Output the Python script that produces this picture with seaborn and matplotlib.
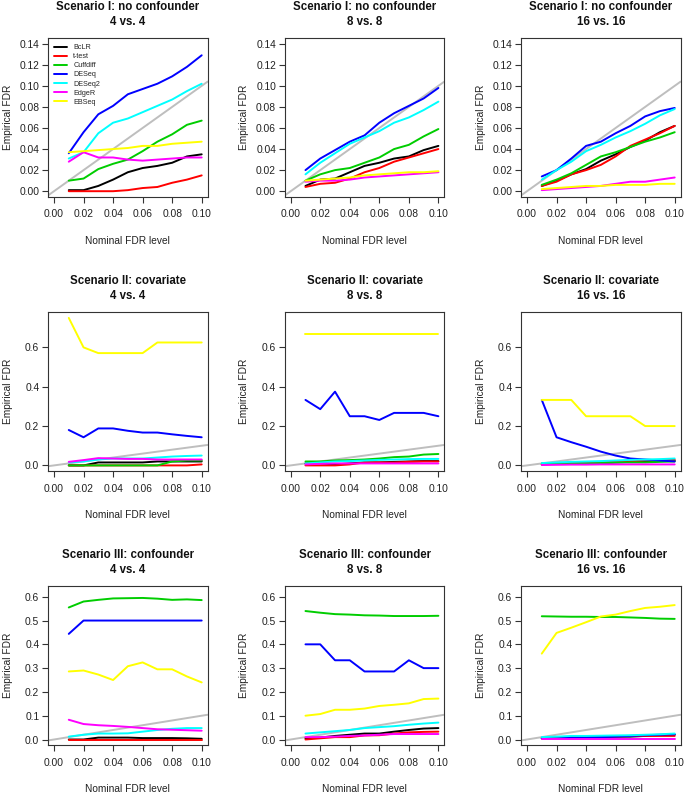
import pandas as pd
import seaborn as sns
import matplotlib.pyplot as plt

# nominal FDR levels (x axis)
nominal = [0.01, 0.02, 0.03, 0.04, 0.05, 0.06, 0.07, 0.08, 0.09, 0.10]

methods = ["BcLR", "t-test", "Cuffdiff", "DESeq", "DESeq2", "EdgeR", "EBSeq"]
colores = ["black", "#FF0000", "#00CD00", "#0000FF", "#00FFFF", "#FF00FF", "#FFFF00"]

# Scenario I: no confounder
s1_4 = {
    "BcLR":     [0.001, 0.001, 0.005, 0.011, 0.018, 0.022, 0.024, 0.027, 0.033, 0.035],
    "t-test":   [0.000, 0.000, 0.000, 0.000, 0.001, 0.003, 0.004, 0.008, 0.011, 0.015],
    "Cuffdiff": [0.010, 0.012, 0.021, 0.026, 0.030, 0.038, 0.047, 0.054, 0.063, 0.067],
    "DESeq":    [0.036, 0.056, 0.073, 0.081, 0.092, 0.097, 0.102, 0.109, 0.118, 0.129],
    "DESeq2":   [0.031, 0.037, 0.055, 0.065, 0.069, 0.075, 0.081, 0.087, 0.095, 0.102],
    "EdgeR":    [0.028, 0.037, 0.032, 0.032, 0.030, 0.029, 0.030, 0.031, 0.032, 0.032],
    "EBSeq":    [0.037, 0.038, 0.039, 0.040, 0.041, 0.043, 0.043, 0.045, 0.046, 0.047],
}
s1_8 = {
    "BcLR":     [0.005, 0.011, 0.012, 0.018, 0.024, 0.027, 0.031, 0.033, 0.039, 0.043],
    "t-test":   [0.004, 0.007, 0.008, 0.012, 0.018, 0.022, 0.028, 0.032, 0.036, 0.040],
    "Cuffdiff": [0.010, 0.016, 0.020, 0.022, 0.027, 0.032, 0.040, 0.044, 0.052, 0.059],
    "DESeq":    [0.020, 0.031, 0.039, 0.047, 0.053, 0.065, 0.074, 0.081, 0.088, 0.098],
    "DESeq2":   [0.016, 0.027, 0.036, 0.045, 0.051, 0.057, 0.065, 0.070, 0.077, 0.085],
    "EdgeR":    [0.009, 0.010, 0.010, 0.011, 0.013, 0.014, 0.015, 0.016, 0.017, 0.018],
    "EBSeq":    [0.010, 0.011, 0.012, 0.013, 0.015, 0.016, 0.017, 0.018, 0.018, 0.019],
}
s1_16 = {
    "BcLR":     [0.005, 0.010, 0.016, 0.021, 0.029, 0.035, 0.042, 0.048, 0.056, 0.062],
    "t-test":   [0.005, 0.009, 0.016, 0.020, 0.025, 0.033, 0.043, 0.049, 0.055, 0.062],
    "Cuffdiff": [0.006, 0.011, 0.017, 0.025, 0.033, 0.037, 0.042, 0.047, 0.051, 0.056],
    "DESeq":    [0.014, 0.020, 0.031, 0.043, 0.047, 0.055, 0.062, 0.071, 0.076, 0.079],
    "DESeq2":   [0.011, 0.020, 0.028, 0.038, 0.044, 0.051, 0.057, 0.064, 0.072, 0.078],
    "EdgeR":    [0.001, 0.002, 0.003, 0.004, 0.005, 0.007, 0.009, 0.009, 0.011, 0.013],
    "EBSeq":    [0.002, 0.003, 0.004, 0.005, 0.005, 0.006, 0.006, 0.006, 0.007, 0.007],
}

# Scenario II: covariate
s2_4 = {
    "BcLR":     [0.000, 0.000, 0.015, 0.015, 0.015, 0.015, 0.020, 0.020, 0.020, 0.020],
    "t-test":   [0.000, 0.000, 0.000, 0.000, 0.000, 0.000, 0.000, 0.000, 0.000, 0.005],
    "Cuffdiff": [0.000, 0.000, 0.000, 0.000, 0.000, 0.000, 0.000, 0.020, 0.025, 0.025],
    "DESeq":    [0.180, 0.143, 0.188, 0.188, 0.176, 0.167, 0.167, 0.158, 0.150, 0.143],
    "DESeq2":   [0.015, 0.020, 0.030, 0.035, 0.035, 0.035, 0.040, 0.045, 0.048, 0.050],
    "EdgeR":    [0.018, 0.027, 0.037, 0.035, 0.033, 0.033, 0.030, 0.030, 0.030, 0.030],
    "EBSeq":    [0.750, 0.600, 0.571, 0.571, 0.571, 0.571, 0.625, 0.625, 0.625, 0.625],
}
s2_8 = {
    "BcLR":     [0.010, 0.010, 0.005, 0.010, 0.015, 0.015, 0.018, 0.020, 0.022, 0.022],
    "t-test":   [0.000, 0.000, 0.000, 0.005, 0.015, 0.015, 0.015, 0.018, 0.020, 0.020],
    "Cuffdiff": [0.020, 0.020, 0.025, 0.027, 0.030, 0.035, 0.042, 0.045, 0.055, 0.058],
    "DESeq":    [0.333, 0.286, 0.375, 0.250, 0.250, 0.231, 0.267, 0.267, 0.267, 0.250],
    "DESeq2":   [0.010, 0.015, 0.020, 0.022, 0.025, 0.028, 0.030, 0.032, 0.033, 0.033],
    "EdgeR":    [0.005, 0.008, 0.010, 0.010, 0.010, 0.010, 0.010, 0.010, 0.010, 0.010],
    "EBSeq":    [0.667, 0.667, 0.667, 0.667, 0.667, 0.667, 0.667, 0.667, 0.667, 0.667],
}
s2_16 = {
    "BcLR":     [0.005, 0.008, 0.010, 0.010, 0.012, 0.015, 0.018, 0.020, 0.022, 0.025],
    "t-test":   [0.005, 0.008, 0.010, 0.010, 0.015, 0.018, 0.020, 0.025, 0.025, 0.028],
    "Cuffdiff": [0.010, 0.010, 0.010, 0.010, 0.012, 0.015, 0.015, 0.015, 0.018, 0.020],
    "DESeq":    [0.333, 0.143, 0.118, 0.095, 0.070, 0.050, 0.035, 0.030, 0.025, 0.020],
    "DESeq2":   [0.012, 0.015, 0.018, 0.020, 0.022, 0.025, 0.028, 0.030, 0.032, 0.035],
    "EdgeR":    [0.002, 0.003, 0.004, 0.004, 0.005, 0.005, 0.005, 0.005, 0.005, 0.005],
    "EBSeq":    [0.333, 0.333, 0.333, 0.250, 0.250, 0.250, 0.250, 0.200, 0.200, 0.200],
}

# Scenario III: confounder
s3_4 = {
    "BcLR":     [0.000, 0.000, 0.008, 0.008, 0.008, 0.006, 0.006, 0.006, 0.005, 0.003],
    "t-test":   [0.000, 0.000, 0.000, 0.000, 0.000, 0.000, 0.000, 0.000, 0.000, 0.000],
    "Cuffdiff": [0.555, 0.580, 0.587, 0.593, 0.594, 0.595, 0.592, 0.587, 0.589, 0.586],
    "DESeq":    [0.444, 0.500, 0.500, 0.500, 0.500, 0.500, 0.500, 0.500, 0.500, 0.500],
    "DESeq2":   [0.012, 0.020, 0.025, 0.025, 0.026, 0.033, 0.040, 0.045, 0.048, 0.048],
    "EdgeR":    [0.083, 0.065, 0.060, 0.057, 0.053, 0.048, 0.043, 0.041, 0.039, 0.037],
    "EBSeq":    [0.286, 0.290, 0.273, 0.250, 0.308, 0.324, 0.295, 0.295, 0.265, 0.240],
}
s3_8 = {
    "BcLR":     [0.005, 0.008, 0.015, 0.020, 0.025, 0.025, 0.033, 0.040, 0.046, 0.048],
    "t-test":   [0.000, 0.005, 0.010, 0.010, 0.017, 0.018, 0.025, 0.030, 0.032, 0.033],
    "Cuffdiff": [0.540, 0.533, 0.527, 0.525, 0.522, 0.521, 0.519, 0.519, 0.519, 0.520],
    "DESeq":    [0.400, 0.400, 0.333, 0.333, 0.286, 0.286, 0.286, 0.333, 0.300, 0.300],
    "DESeq2":   [0.025, 0.030, 0.035, 0.040, 0.048, 0.052, 0.056, 0.062, 0.067, 0.071],
    "EdgeR":    [0.010, 0.010, 0.012, 0.015, 0.017, 0.020, 0.023, 0.023, 0.023, 0.023],
    "EBSeq":    [0.100, 0.107, 0.125, 0.125, 0.130, 0.141, 0.146, 0.152, 0.170, 0.172],
}
s3_16 = {
    "BcLR":     [0.005, 0.008, 0.010, 0.010, 0.010, 0.012, 0.012, 0.015, 0.018, 0.020],
    "t-test":   [0.005, 0.008, 0.010, 0.012, 0.012, 0.012, 0.015, 0.015, 0.015, 0.015],
    "Cuffdiff": [0.518, 0.517, 0.516, 0.516, 0.515, 0.515, 0.513, 0.511, 0.508, 0.507],
    "DESeq":    [0.005, 0.005, 0.008, 0.010, 0.010, 0.012, 0.015, 0.018, 0.020, 0.022],
    "DESeq2":   [0.010, 0.012, 0.015, 0.015, 0.016, 0.017, 0.018, 0.020, 0.022, 0.025],
    "EdgeR":    [0.002, 0.002, 0.002, 0.002, 0.002, 0.002, 0.002, 0.002, 0.002, 0.002],
    "EBSeq":    [0.361, 0.448, 0.470, 0.493, 0.517, 0.525, 0.540, 0.553, 0.558, 0.565],
}

cenarios = ["Scenario I: no confounder", "Scenario II: covariate", "Scenario III: confounder"]
grupos = ["4 vs. 4", "8 vs. 8", "16 vs. 16"]
paineis = [[s1_4, s1_8, s1_16], [s2_4, s2_8, s2_16], [s3_4, s3_8, s3_16]]

# y limits / ticks per row (R style, 4% padding)
ylims = [(0, 0.14), (0, 0.75), (0, 0.62)]
yticks = [[0, 0.02, 0.04, 0.06, 0.08, 0.10, 0.12, 0.14], [0, 0.2, 0.4, 0.6], [0, 0.1, 0.2, 0.3, 0.4, 0.5, 0.6]]
yfmt = ["{:.2f}", "{:.1f}", "{:.1f}"]
xticks = [0, 0.02, 0.04, 0.06, 0.08, 0.10]

sns.set_style("ticks")
plt.rcParams["font.family"] = ["Liberation Sans", "DejaVu Sans"]

W, H = 685, 794
fig = plt.figure(figsize=(W / 100, H / 100), dpi=100)

col_left = [48.1, 284.8, 521.1]
row_top = [37.8, 312.0, 586.1]
bw, bh = 159.5, 159.3
cor_eixo = "#333333"

for i in range(3):
    for j in range(3):
        ax = fig.add_axes([col_left[j] / W, 1 - (row_top[i] + bh) / H, bw / W, bh / H])
        dados = paineis[i][j]
        df = pd.DataFrame([
            {"nominal": x, "fdr": v, "metodo": m}
            for m in methods for x, v in zip(nominal, dados[m])
        ])
        ax.axline((0, 0), slope=1, color="#BEBEBE", lw=1.4, zorder=1)
        sns.lineplot(data=df, x="nominal", y="fdr", hue="metodo", hue_order=methods,
                     palette=colores, estimator=None, errorbar=None, linewidth=1.4,
                     legend=(i == 0 and j == 0), ax=ax, zorder=2)

        ax.set_xlim(-0.004, 0.104)
        lo, hi = ylims[i]
        pad = (hi - lo) * 0.04
        ax.set_ylim(lo - pad, hi + pad)
        ax.set_xticks(xticks)
        ax.set_xticklabels(["{:.2f}".format(t) for t in xticks])
        ax.set_yticks(yticks[i])
        ax.set_yticklabels([yfmt[i].format(t) for t in yticks[i]])
        ax.tick_params(axis="both", direction="out", length=4.3, width=0.8,
                       color=cor_eixo, labelsize=7.4, labelcolor="#222222")
        ax.tick_params(axis="x", pad=4.5)
        ax.tick_params(axis="y", pad=2)
        for s in ax.spines.values():
            s.set_color(cor_eixo)
            s.set_linewidth(0.8)
            s.set_visible(True)

        ax.set_xlabel("Nominal FDR level", fontsize=7.3, color="#222222", va="center")
        ax.set_ylabel("Empirical FDR", fontsize=7.3, color="#222222", va="center")
        ax.xaxis.set_label_coords(0.5, -43.5 / bh)
        ax.yaxis.set_label_coords(-40.5 / bw, 0.5)

        ax.annotate(cenarios[i], xy=(0.5, 1), xycoords="axes fraction", xytext=(0, 20),
                    textcoords="offset points", ha="center", va="baseline",
                    fontsize=8.3, fontweight="bold", color="#111111")
        ax.annotate(grupos[j], xy=(0.5, 1), xycoords="axes fraction", xytext=(0, 9.2),
                    textcoords="offset points", ha="center", va="baseline",
                    fontsize=8.3, fontweight="bold", color="#111111")

        if i == 0 and j == 0:
            ax.legend(loc="upper left", bbox_to_anchor=(0.035, 0.96), frameon=False,
                      fontsize=5.2, handlelength=1.9, handletextpad=0.8, labelspacing=0.28,
                      borderpad=0, borderaxespad=0)

fig.savefig("out.png", dpi=100)
